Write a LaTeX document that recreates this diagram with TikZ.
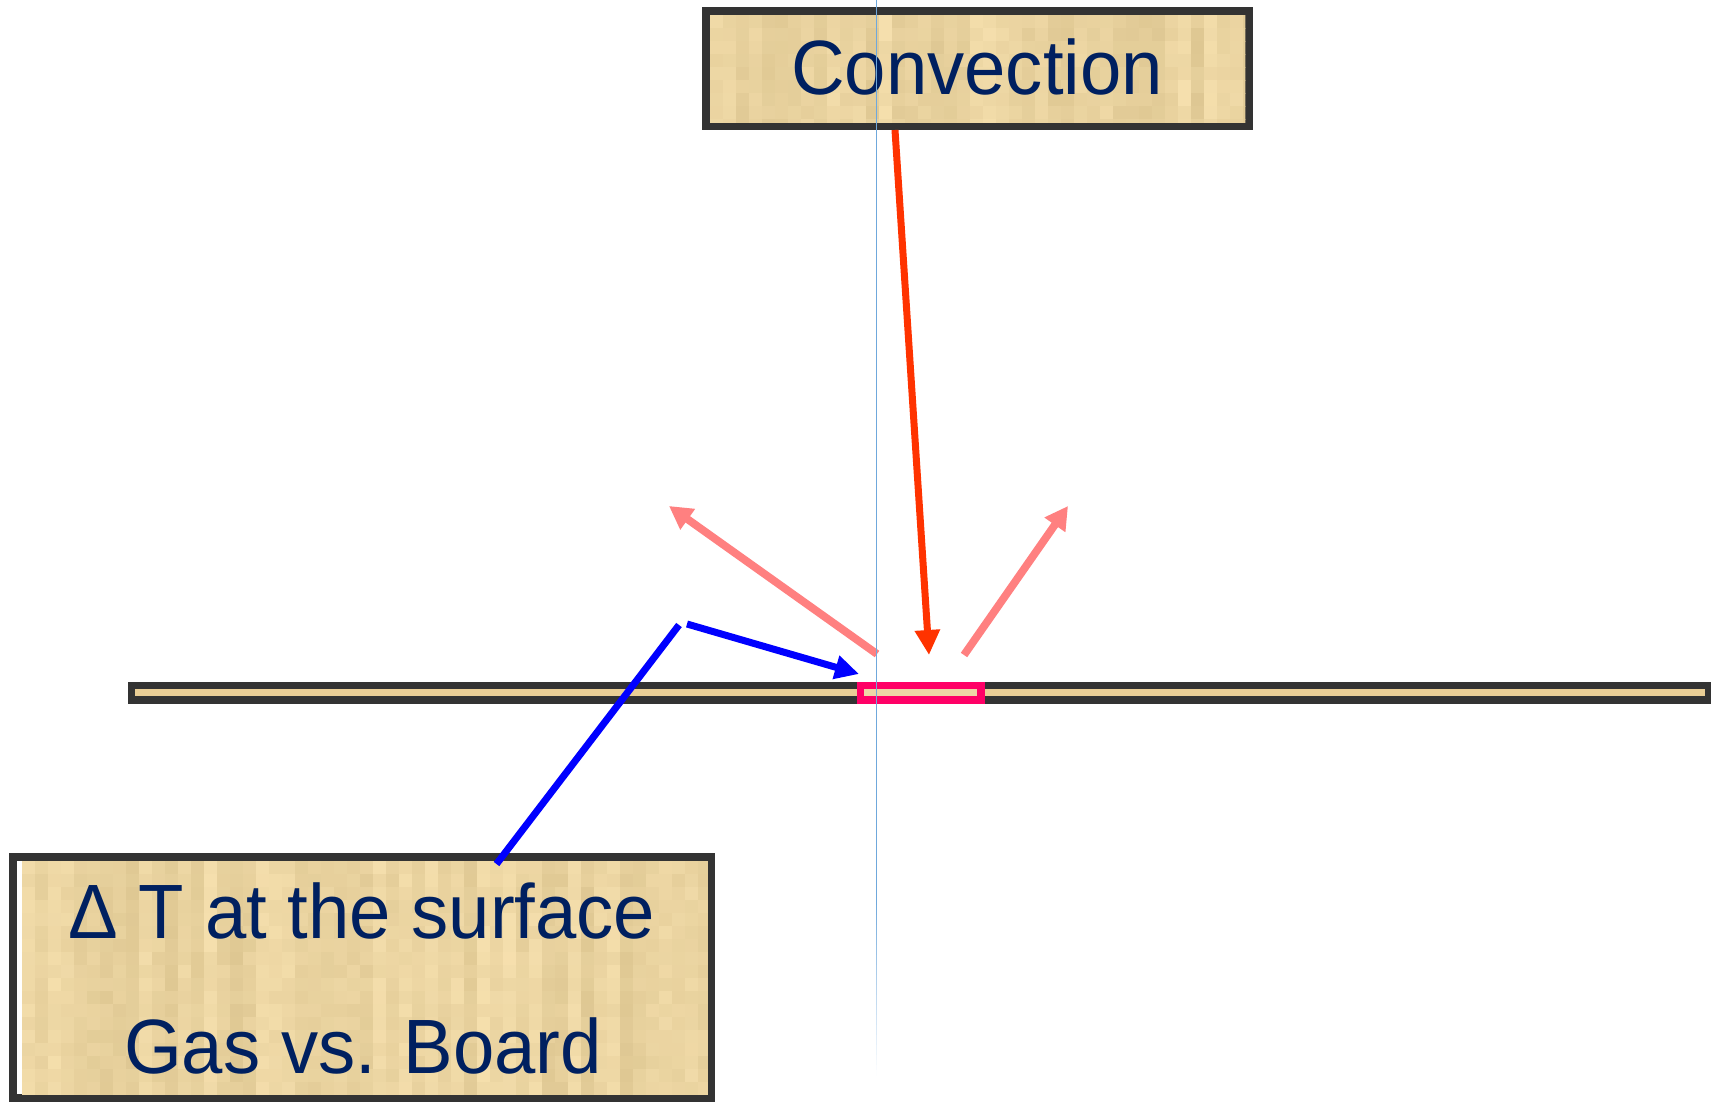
\documentclass[tikz,border=0pt]{standalone}
\usepackage{fontspec}
\usetikzlibrary{arrows.meta}
\newfontfamily\labfont[FakeStretch=0.965]{Liberation Sans}
\definecolor{navy}{RGB}{0,32,96}
\definecolor{beige}{RGB}{234,212,163}
\definecolor{texlight}{RGB}{246,224,174}
\definecolor{texdark}{RGB}{222,199,146}
\definecolor{stripe}{RGB}{233,206,150}
\definecolor{pinkfill}{RGB}{238,214,166}
\definecolor{boxline}{RGB}{51,51,51}
\definecolor{convred}{RGB}{255,51,0}
\definecolor{salmon}{RGB}{255,128,128}
\definecolor{hotpink}{RGB}{255,0,102}
\definecolor{pureblue}{RGB}{0,0,255}
\definecolor{vline}{RGB}{111,168,220}
\tikzset{
  boxstyle/.style={draw=boxline, line width=7.5pt, fill=beige, rectangle, inner sep=0pt},
  labtext/.style={text=navy, font=\labfont\fontsize{77}{90}\selectfont, inner sep=0pt, anchor=base},
  redarrow/.style={draw=convred, line width=7pt, -{Triangle[width=24pt,length=25pt]}},
  salmonarrow/.style={draw=salmon, line width=7.8pt, -{Triangle[width=24pt,length=23pt]}},
  bluearrow/.style={draw=pureblue, line width=7pt, -{Triangle[width=23pt,length=24pt]}},
  blueline/.style={draw=pureblue, line width=7pt},
}
% textured fill: x0, y0, x1, y1, columns, rows (cells of 13pt)
\newcommand{\mytexture}[6]{%
  \begin{scope}
    \clip (#1,#2) rectangle (#3,#4);
    \foreach \i in {0,...,#5} {
      \pgfmathsetmacro\colbase{rnd}
      \foreach \j in {0,...,#6} {
        \pgfmathtruncatemacro\p{100*(0.65*\colbase+0.35*rnd)}
        \fill[texlight!\p!texdark] ({#1+\i*13},{#2+\j*13}) rectangle +(13.6,13.6);
      }
    }
  \end{scope}}
\begin{document}
\begin{tikzpicture}[x=1pt,y=-1pt]
\pgfmathsetseed{11}
\useasboundingbox (0,0) rectangle (1711,1102);
\fill[white] (0,0) rectangle (1711,1102);

% board
\node[draw=boxline, line width=7.6pt, fill=stripe, rectangle, inner sep=0pt,
      minimum width=1577.7pt, minimum height=14.7pt] (board) at (920.15,692.85) {};
% highlighted spot
\node[draw=hotpink, line width=7.5pt, fill=pinkfill, rectangle, inner sep=0pt,
      minimum width=120.5pt, minimum height=14.7pt] (spot) at (920.75,692.85) {};

% convection box
\node[boxstyle, minimum width=543.4pt, minimum height=115pt] (convbox) at (977.5,68.7) {};
\mytexture{709.55}{14.95}{1245.45}{122.45}{41}{8}
\node[labtext] (convtext) at (977,94.5) {Convection};

% bottom box
\node[boxstyle, minimum width=698.7pt, minimum height=241pt] (dtbox) at (362.15,977.5) {};
\mytexture{21.6}{860.75}{707.75}{1094.25}{52}{18}
\fill[white] (16.55,860.75) rectangle (21.6,1094.25);
\node[labtext] (dtline1) at (362,938.3) {Δ T at the surface};
\node[labtext] (dtline2) at (363,1073.3) {Gas vs. Board};

% arrows
\coordinate (redtail) at (895,130);
\coordinate (redtip) at (929,655);
\draw[redarrow] (redtail) -- (redtip);

\coordinate (lefttail) at (877,654);
\coordinate (lefttip) at (669,506);
\draw[salmonarrow] (lefttail) -- (lefttip);

\coordinate (righttail) at (964,655);
\coordinate (righttip) at (1068,506);
\draw[salmonarrow] (righttail) -- (righttip);

\coordinate (bluebase) at (496.5,864);
\coordinate (bluebend) at (679,625);
\draw[blueline] (bluebase) -- (bluebend);

\coordinate (bluetail) at (687,624);
\coordinate (bluetip) at (859,674);
\draw[bluearrow] (bluetail) -- (bluetip);

% thin vertical guide line, fading out at the bottom
\coordinate (vtop) at (876.7,0);
\coordinate (vmid) at (876.7,900);
\draw[vline, line width=1.1pt] (vtop) -- (vmid);
\foreach \k in {0,...,34} {
  \pgfmathtruncatemacro\q{100-\k*2.9}
  \draw[vline!\q!white, line width=1.1pt] (876.7,{900+\k*5}) -- (876.7,{905.6+\k*5});
}
\end{tikzpicture}
\end{document}
